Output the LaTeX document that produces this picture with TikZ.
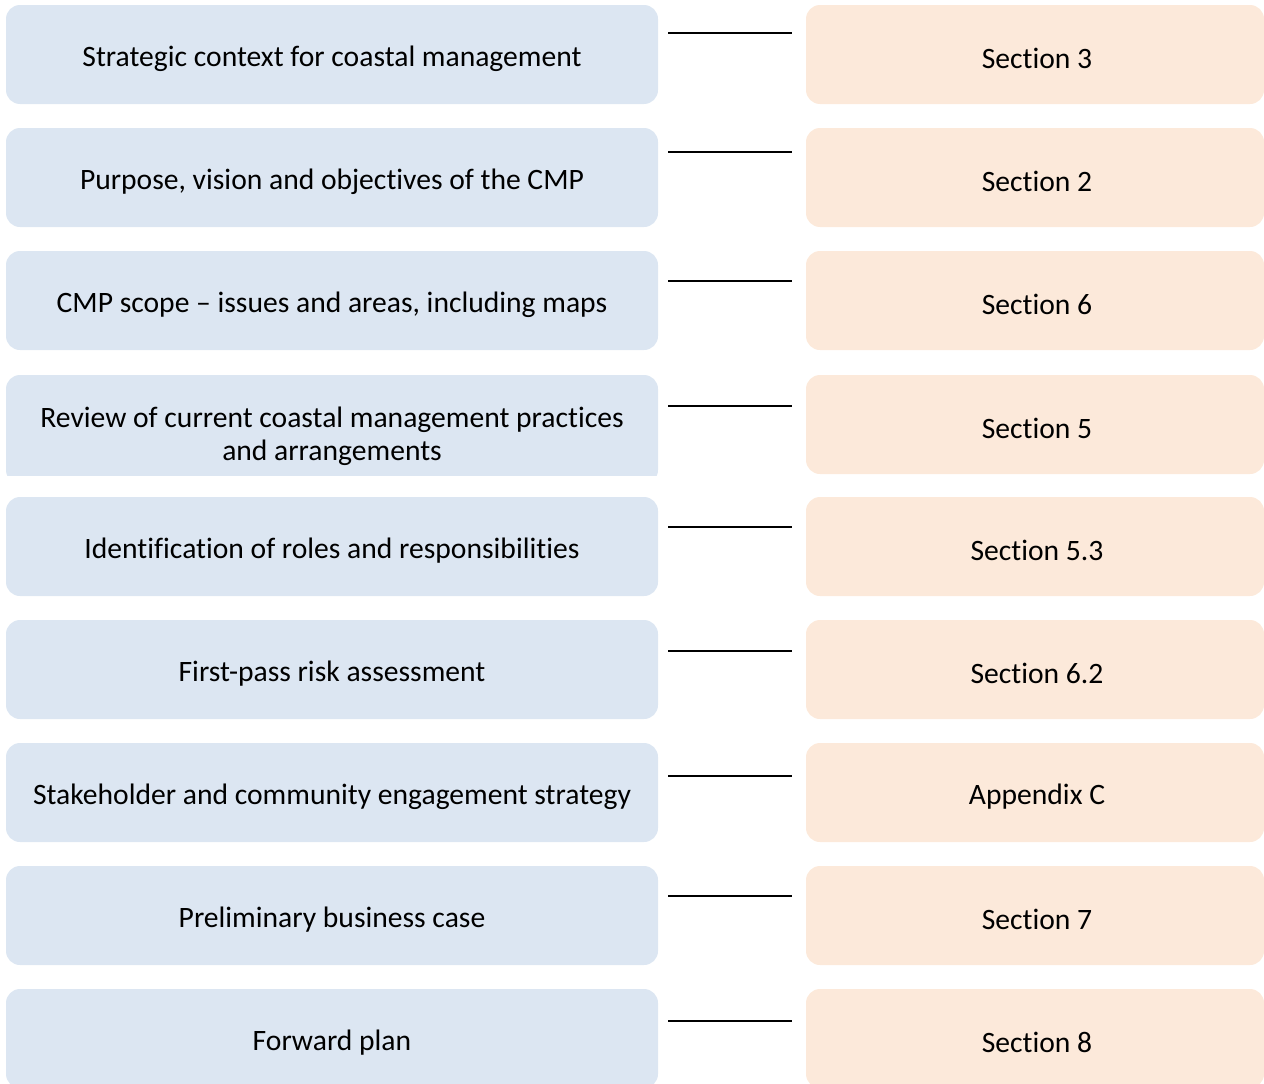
\documentclass[tikz,border=0pt]{standalone}
\usepackage{fontspec}
\setmainfont{Carlito}[RawFeature={-liga;-clig;-calt;-dlig}]
\definecolor{lblue}{HTML}{DCE6F2}
\definecolor{lorange}{HTML}{FCE9DA}
\begin{document}
\begin{tikzpicture}[x=1pt,y=-1pt,
  lbox/.style={fill=lblue,draw=none,rounded corners=14pt,minimum width=652pt,minimum height=99pt,inner sep=0pt},
  rbox/.style={fill=lorange,draw=none,rounded corners=14pt,minimum width=458pt,minimum height=99pt,inner sep=0pt},
  lbl/.style={inner sep=0pt,align=center,font=\fontsize{29.6}{33}\selectfont,text=black},
  link/.style={draw=black,line width=2pt}]
\useasboundingbox (0,0) rectangle (1264,1084);
\foreach \i/\top/\ly/\lt/\rt in {
  1/5/33/{Strategic context for coastal management}/{Section 3},
  2/128/152/{Purpose, vision and objectives of the CMP}/{Section 2},
  3/251/281/{CMP scope -- issues and areas, including maps}/{Section 6},
  5/497/527/{Identification of roles and responsibilities}/{Section 5.3},
  6/620/651/{First-pass risk assessment}/{Section 6.2},
  7/743/776/{Stakeholder and community engagement strategy}/{Appendix C},
  8/866/896/{Preliminary business case}/{Section 7},
  9/989/1021/{Forward plan}/{Section 8}}{
  \node[lbox] (L\i) at (332,\top+49.5) {};
  \node[rbox] (R\i) at (1035,\top+49.5) {};
  \node[lbl] (LT\i) at ([yshift=-4pt]L\i.center) {\lt};
  \node[lbl] (RT\i) at ([xshift=2pt,yshift=-4pt]R\i.center) {\rt};
  \coordinate (a\i) at (668,\ly);
  \coordinate (b\i) at (792,\ly);
  \draw[link] (a\i) -- (b\i);
}
% row 4: left box clipped at its bottom
\begin{scope}
  \clip (0,370) rectangle (700,475);
  \fill[lblue,rounded corners=14pt] (6,375) rectangle (658,484);
\end{scope}
\node[lbl] (LT4) at (332,436) {Review of current coastal management practices\\and arrangements};
\node[rbox] (R4) at (1035,375+49.5) {};
\node[lbl] (RT4) at ([xshift=2pt,yshift=-4pt]R4.center) {Section 5};
\coordinate (a4) at (668,406);
\coordinate (b4) at (792,406);
\draw[link] (a4) -- (b4);
\end{tikzpicture}
\end{document}
